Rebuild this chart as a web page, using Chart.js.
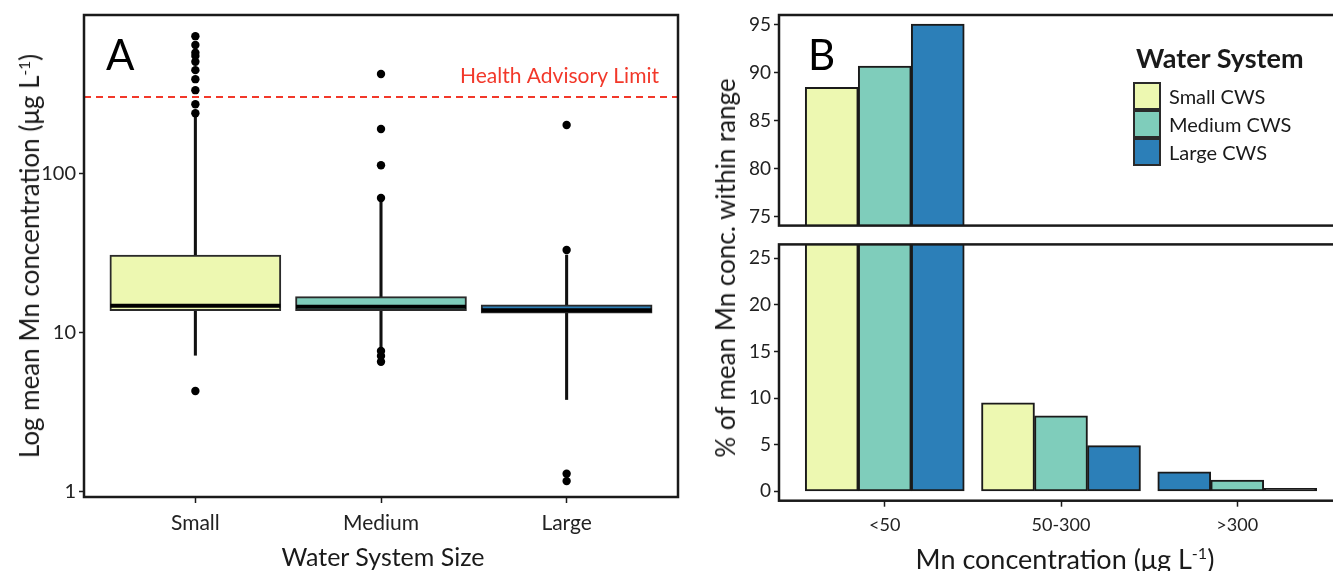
<!DOCTYPE html>
<html>
<head>
<meta charset="utf-8">
<script src="https://cdn.jsdelivr.net/npm/chart.js@4.4.1/dist/chart.umd.min.js"></script>
<style>
  html, body { margin: 0; padding: 0; background: #fff; overflow: hidden; }
  body { width: 1333px; height: 571px; position: relative; font-family: Lato, "Open Sans", sans-serif; color: #1a1a1a; }
  canvas { position: absolute; }
  .t { position: absolute; white-space: nowrap; line-height: 1; }
  .ytitle { transform: translate(-50%, -50%) rotate(-90deg); font-size: 26px; }
  .xtitle { transform: translate(-50%, -50%); font-size: 25px; }
  sup { font-size: 0.6em; vertical-align: 0.6em; line-height: 0; }
  #legend { position: absolute; left: 1133px; top: 41px; }
  #legend .ttl { font-weight: bold; font-size: 27px; margin: 0 0 8px 3px; }
  #legend .row { display: flex; align-items: center; height: 28px; font-size: 20px; }
  #legend .sw { width: 24px; height: 24px; border: 2px solid #2a2a2a; margin-right: 8px; }
</style>
</head>
<body>
<canvas id="chartA" width="690" height="571" style="left:0;top:0"></canvas>
<canvas id="chartBtop" width="660" height="240" style="left:700px;top:0"></canvas>
<canvas id="chartBbot" width="660" height="341" style="left:700px;top:230px"></canvas>

<div class="t ytitle" style="left:29px;top:256px">Log mean Mn concentration (μg L<sup>-1</sup>)</div>
<div class="t xtitle" style="left:383px;top:556px">Water System Size</div>
<div class="t ytitle" style="left:725px;top:268px">% of mean Mn conc. within range</div>
<div class="t xtitle" style="left:1065px;top:558px;font-size:27px">Mn concentration (μg L<sup>-1</sup>)</div>
<div id="legend"></div>

<script>
// ---- panel A: box plot data (log scale) ----
const sizeLabels = ['Small', 'Medium', 'Large'];
const boxQ1 = [13.7, 13.7, 13.2];
const boxMedian = [14.7, 14.5, 13.8];
const boxQ3 = [30.6, 16.8, 14.9];
const whiskerLow = [7.2, 8.0, 3.8];
const whiskerHigh = [230, 68, 30.6];
const outliersSmall = [722, 635, 568, 543, 499, 442, 388, 331, 270, 237, 4.3];
const outliersMedium = [418, 189, 112, 69.7, 7.66, 7.12, 6.56];
const outliersLarge = [200, 32.9, 1.30, 1.17];
const healthLimit = 300;
const yTicksA = [1, 10, 100];

// ---- panel B: % of systems per concentration range ----
const rangeLabels = ['<50', '50-300', '>300'];
const seriesNames = ['Small CWS', 'Medium CWS', 'Large CWS'];
const smallCWS = [88.5, 9.5, 0.1];
const mediumCWS = [90.7, 8.1, 1.2];
const largeCWS = [95.1, 4.9, 2.1];
// order of the three bars inside each group (index into series)
const barOrder = [[0, 1, 2], [0, 1, 2], [2, 1, 0]];
const yTicksBtop = [75, 80, 85, 90, 95];
const yTicksBbot = [0, 5, 10, 15, 20, 25];

const seriesColors = ['#edf8b1', '#7fcdbb', '#2c7fb8'];
const FONT = 'Lato, "Open Sans", sans-serif';
const INK = '#1a1a1a';

Chart.defaults.font.family = FONT;
Chart.defaults.color = INK;

// ------- helpers -------
const framePlugin = {
    id: 'frame',
    afterDatasetsDraw(chart) {
        const a = chart.chartArea, ctx = chart.ctx;
        ctx.save();
        ctx.strokeStyle = INK;
        ctx.lineWidth = 2.5;
        ctx.strokeRect(a.left, a.top, a.right - a.left, a.bottom - a.top);
        ctx.restore();
    }
};

function panelLetter(letter, dx) {
    return {
        id: 'letter' + letter,
        afterDraw(chart) {
            const ctx = chart.ctx;
            ctx.save();
            ctx.font = '42px ' + FONT;
            ctx.fillStyle = '#000';
            ctx.textBaseline = 'alphabetic';
            ctx.fillText(letter, chart.chartArea.left + dx, 70);
            ctx.restore();
        }
    };
}

const healthLabel = {
    id: 'healthLabel',
    afterDatasetsDraw(chart) {
        const ctx = chart.ctx;
        const y = chart.scales.y.getPixelForValue(healthLimit);
        ctx.save();
        ctx.font = '21px ' + FONT;
        ctx.fillStyle = '#f2382a';
        ctx.textAlign = 'right';
        ctx.fillText('Health Advisory Limit', chart.chartArea.right - 19, y - 14);
        ctx.restore();
    }
};

function yAxis(type, min, max, ticksList, width, size) {
    return {
        type, min, max,
        afterBuildTicks: s => { s.ticks = ticksList.map(v => ({ value: v })); },
        afterFit: s => { s.width = width; },
        ticks: { callback: v => String(v), color: '#222', font: { size }, padding: 3 },
        grid: { drawOnChartArea: false, tickLength: 5, tickColor: INK, tickWidth: 1.5 },
        border: { display: false }
    };
}

function xAxis(labels, show, height, size) {
    return {
        type: 'linear', min: -0.6, max: 2.6, offset: false, display: show,
        afterBuildTicks: s => { s.ticks = labels.map((_, i) => ({ value: i })); },
        afterFit: s => { s.height = height; },
        ticks: { callback: v => labels[v], color: '#222', font: { size }, padding: 8, maxRotation: 0, autoSkip: false },
        grid: { drawOnChartArea: false, offset: false, tickLength: 6, tickColor: INK, tickWidth: 1.5 },
        border: { display: false }
    };
}

// ------- panel A -------
const outlierPoints = [];
[outliersSmall, outliersMedium, outliersLarge].forEach((arr, i) => {
    arr.forEach(v => outlierPoints.push({ x: i, y: v }));
});

new Chart(document.getElementById('chartA'), {
    type: 'bar',
    data: {
        datasets: [
            {
                label: 'whisker', order: 5, grouped: false, barThickness: 2.4,
                data: sizeLabels.map((_, i) => ({ x: i, y: [whiskerLow[i], whiskerHigh[i]] })),
                backgroundColor: '#111', borderWidth: 0
            },
            {
                label: 'box', order: 4, grouped: false, barThickness: 171,
                data: sizeLabels.map((_, i) => ({ x: i, y: [boxQ1[i], boxQ3[i]] })),
                backgroundColor: seriesColors, borderColor: '#2a2a2a', borderWidth: 2, borderSkipped: false
            },
            {
                type: 'scatter', label: 'median', order: 3,
                data: sizeLabels.map((_, i) => ({ x: i, y: boxMedian[i] })),
                pointStyle: 'line', pointRadius: 85, pointHoverRadius: 85,
                borderColor: '#000', pointBorderWidth: 4, pointHoverBorderWidth: 4
            },
            {
                type: 'scatter', label: 'outliers', order: 2,
                data: outlierPoints,
                pointRadius: 4.2, pointHoverRadius: 4.2, backgroundColor: '#000', borderColor: '#000', borderWidth: 0
            },
            {
                type: 'line', label: 'limit', order: 1,
                data: [{ x: -0.6, y: healthLimit }, { x: 2.6, y: healthLimit }],
                borderColor: '#f2382a', borderWidth: 1.8, borderDash: [7, 5], pointRadius: 0
            }
        ]
    },
    options: {
        responsive: false, animation: false, events: [],
        layout: { autoPadding: false, padding: { top: 15, right: 12, bottom: 34, left: 0 } },
        plugins: { legend: { display: false }, tooltip: { enabled: false } },
        scales: {
            x: xAxis(sizeLabels, true, 40, 21),
            y: yAxis('logarithmic', 0.93, 980, yTicksA, 84, 20)
        }
    },
    plugins: [framePlugin, healthLabel, panelLetter('A', 22)]
});

// ------- panel B (broken axis = two charts) -------
const seriesValues = [smallCWS, mediumCWS, largeCWS];

function slotDatasets(minBar) {
    return [0, 1, 2].map(s => ({
        label: 'slot' + s,
        data: rangeLabels.map((_, c) => ({ x: c, y: seriesValues[barOrder[c][s]][c] })),
        // near-zero bars show only as a flat black line
        backgroundColor: ctx => (ctx.raw && ctx.raw.y < 0.5) ? INK : seriesColors[barOrder[ctx.dataIndex][s]],
        borderColor: INK, borderWidth: 2, borderSkipped: false,
        barThickness: 53, minBarLength: minBar, clip: 0
    }));
}

new Chart(document.getElementById('chartBtop'), {
    type: 'bar',
    data: { datasets: slotDatasets(0) },
    options: {
        responsive: false, animation: false, events: [],
        layout: { autoPadding: false, padding: { top: 15, right: 17, bottom: 13.3, left: 0 } },
        plugins: { legend: { display: false }, tooltip: { enabled: false } },
        scales: {
            x: xAxis(rangeLabels, false, 0, 18),
            y: yAxis('linear', 74.05, 96.04, yTicksBtop, 79, 19)
        }
    },
    plugins: [framePlugin, panelLetter('B', 29)]
});

new Chart(document.getElementById('chartBbot'), {
    type: 'bar',
    data: { datasets: slotDatasets(3) },
    options: {
        responsive: false, animation: false, events: [],
        layout: { autoPadding: false, padding: { top: 5, right: 17, bottom: 30.3, left: 0 } },
        plugins: { legend: { display: false }, tooltip: { enabled: false } },
        scales: {
            x: xAxis(rangeLabels, true, 40, 18),
            y: yAxis('linear', -1.0, 26.48, yTicksBbot, 79, 19)
        }
    },
    plugins: [framePlugin]
});

// ------- legend -------
document.getElementById('legend').innerHTML =
    '<div class="ttl">Water System</div>' +
    seriesNames.map((n, i) =>
        `<div class="row"><span class="sw" style="background:${seriesColors[i]}"></span>${n}</div>`
    ).join('');
</script>
</body>
</html>
